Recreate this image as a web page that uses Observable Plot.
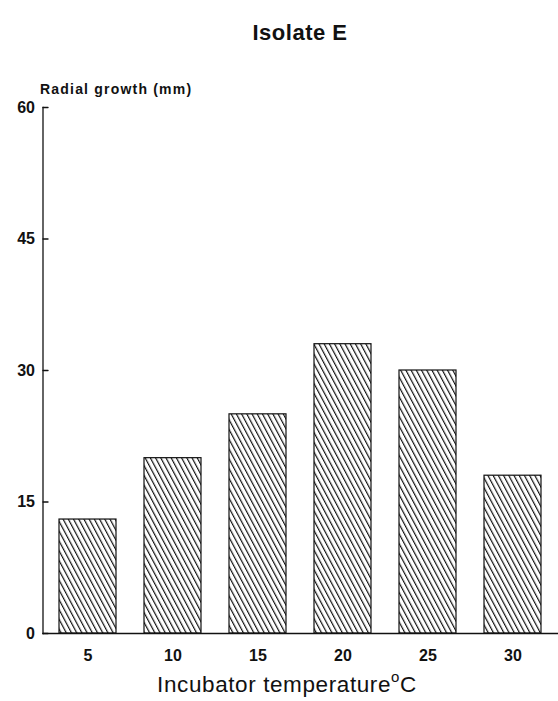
<!DOCTYPE html>
<html><head><meta charset="utf-8">
<script src="https://cdn.jsdelivr.net/npm/d3@7"></script>
<script src="https://cdn.jsdelivr.net/npm/@observablehq/plot@0.6"></script>
<style>
body{margin:0;background:#fff;font-family:"Liberation Sans",Arial,sans-serif;}
#wrap{position:relative;width:558px;height:701px;}
.t{position:absolute;color:#111;white-space:nowrap;}
</style></head>
<body><div id="wrap">
<div class="t" id="title" style="left:0;width:600px;text-align:center;top:20px;font-size:22px;font-weight:bold;letter-spacing:0.5px;">Isolate E</div>
<div class="t" id="ylab" style="left:40px;top:81px;font-size:14px;font-weight:bold;letter-spacing:1.2px;">Radial growth (mm)</div>
<div class="t" id="xlab" style="left:0;width:574px;text-align:center;top:672px;font-size:22.5px;letter-spacing:0.6px;">Incubator temperature<span style="font-size:15px;position:relative;top:-10px;">o</span>C</div>
</div>
<script>
const temperatures = ["5", "10", "15", "20", "25", "30"];
const growth = [13, 20, 25, 33, 30, 18];
const yTicks = [0, 15, 30, 45, 60];

const data = temperatures.map((t, i) => ({t, g: growth[i]}));

const lineShape = {draw(context, l) { context.moveTo(0, 0); context.lineTo(0, -l); }};

const svg = Plot.plot({
  width: 558, height: 701,
  marginTop: 107, marginBottom: 68, marginLeft: 42.5, marginRight: 1,
  style: {fontFamily: "Liberation Sans, Arial, sans-serif", background: "transparent", color: "#111"},
  x: {domain: temperatures, paddingInner: 0.324, paddingOuter: 0.162, label: null},
  y: {domain: [0, 60], label: null},
  marks: [
    Plot.barY(data, {x: "t", y: "g", fill: "url(#hatch)", stroke: "#111", strokeWidth: 1.2}),
    Plot.ruleY([0], {stroke: "#111", strokeWidth: 1.3, insetRight: -1}),
    Plot.frame({anchor: "left", stroke: "#111", strokeWidth: 1.3}),
    Plot.vector(yTicks, {y: d => d, frameAnchor: "left", rotate: 90, length: 5, anchor: "start", shape: lineShape, stroke: "#111", strokeWidth: 1.4}),
    Plot.axisY({ticks: yTicks, tickSize: 0, tickPadding: 8, label: null, fontSize: 16, fontWeight: "bold", style: {letterSpacing: "1px"}}),
    Plot.axisX({tickSize: 0, tickPadding: 16, label: null, fontSize: 16, fontWeight: "bold", style: {letterSpacing: "1px"}})
  ]
});
const ns = "http://www.w3.org/2000/svg";
const defs = document.createElementNS(ns, "defs");
defs.innerHTML = '<pattern id="hatch" patternUnits="userSpaceOnUse" width="4.6" height="6" patternTransform="rotate(-28)"><rect width="4.6" height="6" fill="#fff"/><line x1="0.6" y1="0" x2="0.6" y2="6" stroke="#111" stroke-width="1.2"/></pattern>';
svg.insertBefore(defs, svg.firstChild);
svg.style.position = "absolute";
svg.style.left = "0"; svg.style.top = "0";
document.getElementById("wrap").appendChild(svg);
</script>
</body></html>
